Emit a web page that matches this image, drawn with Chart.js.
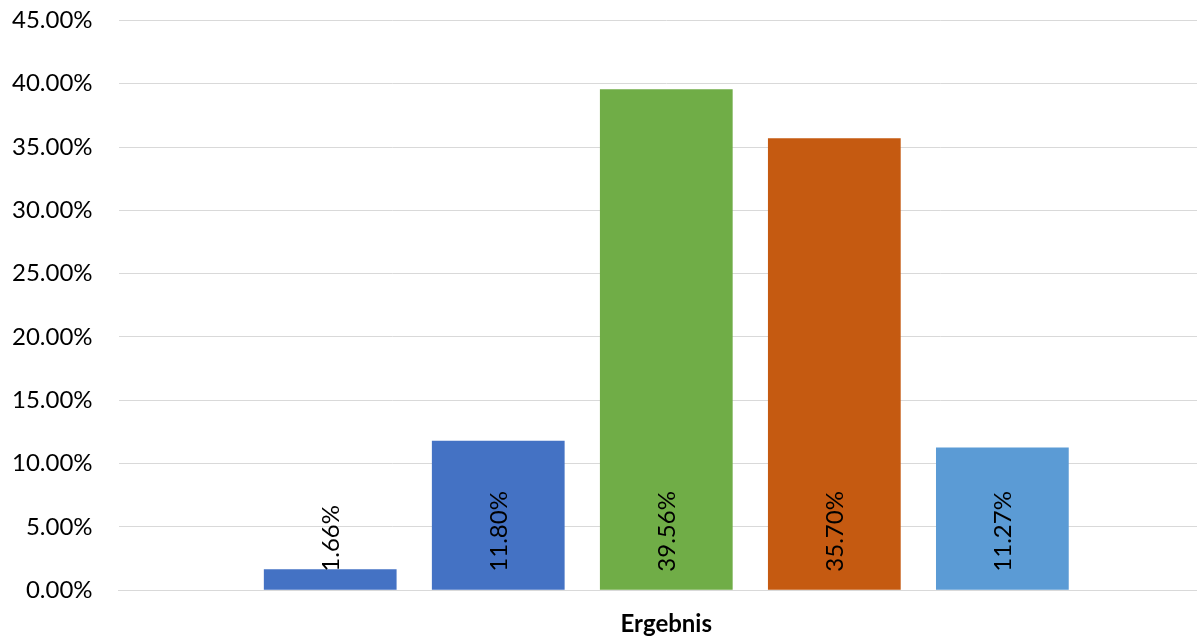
<!DOCTYPE html>
<html>
<head>
<meta charset="utf-8">
<script src="https://cdn.jsdelivr.net/npm/chart.js@4"></script>
<style>
  html, body { margin: 0; padding: 0; background: #fff; overflow: hidden; width: 1197px; height: 637px; }
  /* plot area runs past the right edge, as in the reference */
  #wrap { width: 1214px; height: 677px; margin-top: -20px; }
</style>
</head>
<body>
<div id="wrap"><canvas id="resultChart"></canvas></div>
<script>
// values
const categories = ["Ergebnis"];
const seriesNames = ["A", "B", "C", "D", "E"];
const seriesValues = [0.0166, 0.1180, 0.3956, 0.3570, 0.1127];
const seriesColors = ["#4472C4", "#4472C4", "#70AD47", "#C55A11", "#5B9BD5"];
const yTicks = [0, 0.05, 0.10, 0.15, 0.20, 0.25, 0.30, 0.35, 0.40, 0.45];

const fontFamily = "Lato, 'Open Sans', sans-serif";

function pct(v) {
    return (v * 100).toFixed(2) + "%";
}

// draws the rotated value labels at the foot of each bar
const barLabels = {
    id: "barLabels",
    afterDatasetsDraw(chart) {
        let ctx = chart.ctx;
        ctx.save();
        ctx.font = "24px " + fontFamily;
        ctx.fillStyle = "#000";
        ctx.textAlign = "left";
        ctx.textBaseline = "middle";
        chart.data.datasets.forEach((ds, i) => {
            let bar = chart.getDatasetMeta(i).data[0];
            ctx.save();
            ctx.translate(bar.x, bar.base - 18);
            ctx.rotate(-Math.PI / 2);
            ctx.fillText(pct(ds.data[0]), 0, 1);
            ctx.restore();
        });
        ctx.restore();
    }
};

let datasets = seriesNames.map((name, i) => ({
    label: name,
    data: [seriesValues[i]],
    backgroundColor: seriesColors[i],
    borderWidth: 0,
    categoryPercentage: 0.767,
    barPercentage: 0.79
}));

new Chart(document.getElementById("resultChart").getContext("2d"), {
    type: "bar",
    data: { labels: categories, datasets: datasets },
    options: {
        responsive: true,
        maintainAspectRatio: false,
        animation: false,
        layout: { padding: { top: -10, right: 0, bottom: -2, left: -14 } },
        plugins: {
            legend: { display: false },
            tooltip: { enabled: false }
        },
        scales: {
            x: {
                grid: { display: false, drawTicks: false },
                border: { color: "#d9d9d9", width: 1 },
                ticks: {
                    color: "#000",
                    padding: 20,
                    font: { family: fontFamily, size: 24, weight: "bold" }
                }
            },
            y: {
                min: 0,
                max: 0.45,
                afterBuildTicks: axis => { axis.ticks = yTicks.map(v => ({ value: v })); },
                grid: { color: "#d9d9d9", lineWidth: 1, drawTicks: false },
                border: { display: false },
                ticks: {
                    color: "#000",
                    padding: 26,
                    font: { family: fontFamily, size: 24 },
                    callback: v => pct(v)
                }
            }
        }
    },
    plugins: [barLabels]
});
</script>
</body>
</html>
